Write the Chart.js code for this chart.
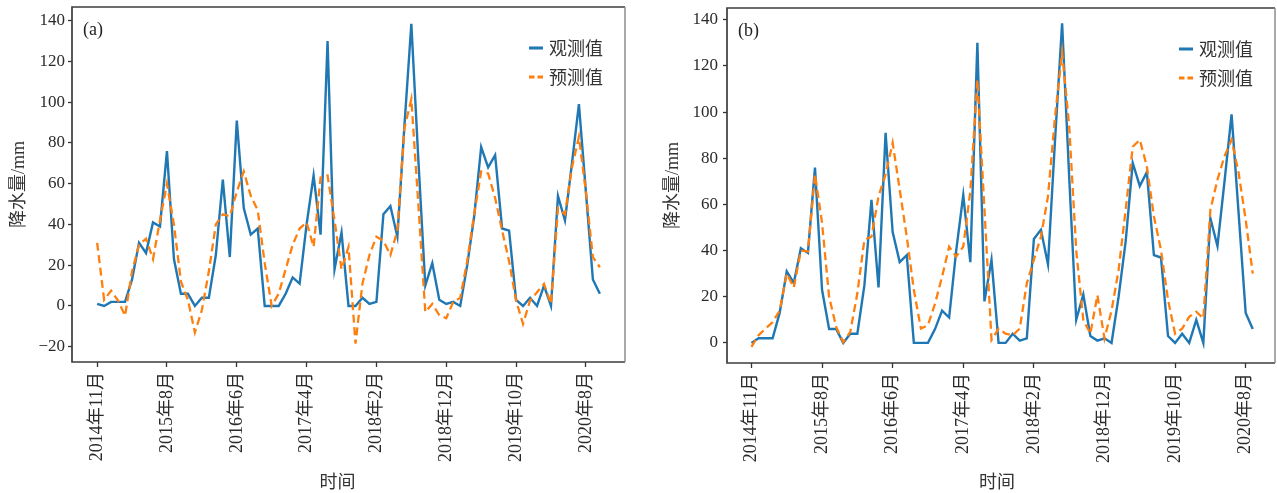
<!DOCTYPE html>
<html>
<head>
<meta charset="utf-8">
<script src="https://cdn.jsdelivr.net/npm/chart.js@4.4.1/dist/chart.umd.min.js"></script>
<style>
  html, body { margin: 0; padding: 0; background: #fff; }
  body { width: 1277px; height: 493px; position: relative; overflow: hidden; }
  .panel { position: absolute; top: 0; height: 493px; }
  #wrapA { left: 0; width: 636px; }
  #wrapB { left: 640px; width: 637px; }
</style>
</head>
<body>
<div class="panel" id="wrapA"><canvas id="chartA" width="636" height="493"></canvas></div>
<div class="panel" id="wrapB"><canvas id="chartB" width="637" height="493"></canvas></div>
<script>
// Month labels shown under every tenth point
const xTickLabels = ['2014年11月', '2015年8月', '2016年6月', '2017年4月', '2018年2月', '2018年12月', '2019年10月', '2020年8月'];
const xTickValues = [0, 10, 20, 30, 40, 50, 60, 70];
const yTicksA = [-20, 0, 20, 40, 60, 80, 100, 120, 140];
const yTicksB = [0, 20, 40, 60, 80, 100, 120, 140];

// Monthly precipitation (mm), observed
const observed = [
  1, 0, 2, 2, 2, 13, 31, 26, 41, 39,
  76, 23, 6, 6, 0, 4, 4, 25, 62, 24,
  91, 48, 35, 38, 0, 0, 0, 6, 14, 11,
  40, 64, 35, 130, 18, 36, 0, 0, 4, 1,
  2, 45, 49, 34, 88, 138.5, 72, 10, 21, 3,
  1, 2, 0, 20, 44, 78, 68, 74, 38, 37,
  3, 0, 4, 0, 10, 0, 54, 42, 70, 99,
  56, 13, 6
];

// Model (a) prediction
const predictedA = [
  31, 3, 7.5, 2.6, -4.8, 17, 30, 33, 23, 42,
  60, 40, 12, 3, -13, -2, 17, 40, 45, 44,
  56, 66, 54, 47, 21, 0, 6, 18, 30, 38,
  41, 29, 63, 64, 42, 18, 29, -18.5, 11, 25,
  34, 32, 25, 37, 87, 101.5, 50, -3, 1, -4.5,
  -6, 2, 4, 22, 45, 66, 65, 53, 37, 22,
  2.6, -8.8, 2.6, 6.7, 10.8, 1, 48, 45, 68, 83,
  56, 24, 19
];

// Model (b) prediction, series starts one month later
const observedB = observed.slice(1);
const predictedB = [
  -1.7, 3.3, 6.2, 9, 14, 30, 24, 40, 39.6, 73,
  52, 20, 7, 0.4, 4.8, 21.5, 44.7, 46, 63.5, 73,
  86.7, 66.4, 46, 23, 6.2, 7.7, 17, 28.7, 41.7, 37.4,
  41.7, 65.7, 114, 58, 1.3, 6.2, 4, 3.3, 6.2, 25.8,
  36, 46, 63.5, 98, 126, 94, 40, 10, 4, 20.7,
  1.9, 14, 31.6, 57.7, 85, 88, 76.5, 54.8, 40.3, 18.6,
  4, 6.2, 11.3, 13.5, 10.6, 57.7, 70.7, 80.9, 88, 73.6,
  53.3, 30
];

const seriesNames = ['观测值', '预测值'];
const xTitle = '时间';
const BLUE = '#1f77b4';
const ORANGE = '#ff7f0e';
const SERIF = "'Liberation Serif', 'Noto Sans CJK SC', serif";
const CJK = "'Noto Sans CJK SC', sans-serif";

const toPoints = arr => arr.map((y, i) => ({ x: i, y }));

// Axes frame, x title, panel tag and legend inside the plot area
const framePlugin = {
  id: 'frameTagLegend',
  afterDatasetsDraw(chart, args, opts) {
    const { ctx, chartArea: a } = chart;
    ctx.save();
    ctx.lineCap = 'butt';
    ctx.strokeStyle = '#3c3c3c';
    ctx.lineWidth = 1.7;
    ctx.beginPath();
    ctx.moveTo(a.right, a.top);
    ctx.lineTo(a.left, a.top);
    ctx.lineTo(a.left, a.bottom);
    ctx.lineTo(a.right, a.bottom);
    ctx.stroke();
    ctx.strokeStyle = '#8c8c8c';
    ctx.lineWidth = 1.5;
    ctx.beginPath();
    ctx.moveTo(a.right, a.top);
    ctx.lineTo(a.right, a.bottom);
    ctx.stroke();

    ctx.fillStyle = '#222';
    ctx.font = '18px ' + SERIF;
    ctx.textAlign = 'left';
    ctx.textBaseline = 'middle';
    ctx.fillText(opts.tag, a.left + 11, a.top + 23);

    // x-axis title, a little left of the plot centre
    ctx.fillStyle = '#333';
    ctx.font = '18px ' + SERIF;
    ctx.textAlign = 'center';
    ctx.fillText(xTitle, (a.left + a.right) / 2 + opts.titleShift, chart.height - 10);

    ctx.textAlign = 'left';
    const x0 = a.right - 96;
    chart.data.datasets.forEach((ds, k) => {
      const y = a.top + 41 + k * 29;
      ctx.strokeStyle = ds.borderColor;
      ctx.lineWidth = 3;
      ctx.setLineDash(ds.borderDash && ds.borderDash.length ? [5.5, 3] : []);
      ctx.beginPath();
      ctx.moveTo(x0, y);
      ctx.lineTo(x0 + 14, y);
      ctx.stroke();
      ctx.setLineDash([]);
      ctx.fillStyle = '#333';
      ctx.font = '18px ' + CJK;
      ctx.fillText(ds.label, x0 + 20, y);
    });
    ctx.restore();
  }
};

function makeChart(id, cfg) {
  const ctx = document.getElementById(id);
  return new Chart(ctx, {
    type: 'line',
    data: {
      datasets: [
        {
          label: seriesNames[0],
          data: toPoints(cfg.obs),
          borderColor: BLUE,
          borderWidth: 2.4,
          pointRadius: 0,
          tension: 0,
          order: 1
        },
        {
          label: seriesNames[1],
          data: toPoints(cfg.pred),
          borderColor: ORANGE,
          borderWidth: 2.3,
          borderDash: [8, 4.5],
          pointRadius: 0,
          tension: 0,
          order: 0
        }
      ]
    },
    options: {
      responsive: false,
      animation: false,
      devicePixelRatio: 1,
      layout: { padding: { left: 0, top: cfg.top, right: cfg.right, bottom: 0 } },
      plugins: {
        legend: { display: false },
        tooltip: { enabled: false },
        frameTagLegend: { tag: cfg.tag, titleShift: cfg.titleShift }
      },
      scales: {
        x: {
          type: 'linear',
          min: cfg.xMin,
          max: cfg.xMax,
          afterBuildTicks: s => { s.ticks = xTickValues.map(v => ({ value: v })); },
          afterFit: s => { s.height = cfg.xHeight; s.paddingLeft = 0; s.paddingRight = 0; },
          border: { display: false },
          grid: { display: true, drawOnChartArea: false, drawTicks: true, tickLength: 5, tickColor: '#333', tickWidth: 1.3 },
          ticks: {
            autoSkip: false,
            minRotation: 90,
            maxRotation: 90,
            padding: 5,
            color: '#2b2b2b',
            font: { family: SERIF, size: 18 },
            callback: v => xTickLabels[xTickValues.indexOf(v)]
          },
          title: { display: false }
        },
        y: {
          type: 'linear',
          min: cfg.yMin,
          max: cfg.yMax,
          afterBuildTicks: s => { s.ticks = cfg.yTicks.map(v => ({ value: v })); },
          afterFit: s => { s.width = cfg.yWidth; s.paddingTop = 0; s.paddingBottom = 0; },
          border: { display: false },
          grid: { display: true, drawOnChartArea: false, drawTicks: true, tickLength: 4, tickColor: '#333', tickWidth: 1.3 },
          ticks: {
            padding: cfg.yPad,
            color: '#2b2b2b',
            font: { family: SERIF, size: 17 },
            callback: v => String(v).replace('-', '\u2212')
          },
          title: {
            display: true,
            text: '降水量/mm',
            color: '#333',
            font: { family: SERIF, size: 18 },
            padding: { top: cfg.titlePad, bottom: 0 }
          }
        }
      }
    },
    plugins: [framePlugin]
  });
}

makeChart('chartA', {
  tag: '(a)', obs: observed, pred: predictedA,
  xMin: -3.6, xMax: 75.6, yMin: -27.5, yMax: 146.7, yTicks: yTicksA,
  top: 7, right: 11, yWidth: 72, xHeight: 131, yPad: 3, titlePad: 8, titleShift: -11
});
makeChart('chartB', {
  tag: '(b)', obs: observedB, pred: predictedB,
  xMin: -3.46, xMax: 74.15, yMin: -8.7, yMax: 145.1, yTicks: yTicksB,
  top: 8, right: 2, yWidth: 87, xHeight: 130, yPad: 5, titlePad: 22, titleShift: -4
});
</script>
</body>
</html>
